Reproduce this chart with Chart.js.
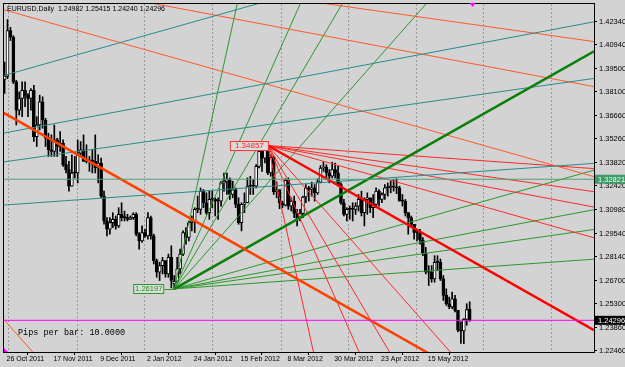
<!DOCTYPE html>
<html>
<head>
<meta charset="utf-8">
<title>EURUSD Daily</title>
<script src="https://cdn.jsdelivr.net/npm/chart.js@4.4.1/dist/chart.umd.min.js"></script>
<style>
  html, body { margin: 0; padding: 0; background: #d3d3d3; }
  canvas { display: block; }
</style>
</head>
<body>
<canvas id="chart" width="625" height="367"></canvas>
<script>
// EURUSD daily bars, bar 0 = 26 Oct 2011, last bar = 5 Jun 2012
const barOpen = [
  1.3885, 1.3905, 1.4180, 1.4140, 1.3870, 1.3700, 1.3770, 1.3820, 1.3790, 1.3770,
  1.3820, 1.3540, 1.3610, 1.3750, 1.3640, 1.3530, 1.3460, 1.3450, 1.3520, 1.3480,
  1.3500, 1.3370, 1.3340, 1.3240, 1.3320, 1.3320, 1.3440, 1.3460, 1.3390, 1.3400,
  1.3390, 1.3390, 1.3350, 1.3380, 1.3180, 1.3030, 1.2980, 1.3020, 1.3040, 1.3000,
  1.3070, 1.3050, 1.3050, 1.3040, 1.3050, 1.3070, 1.2950, 1.2910, 1.2960, 1.2940,
  1.3050, 1.2940, 1.2790, 1.2720, 1.2760, 1.2790, 1.2710, 1.2810, 1.2650, 1.2665,
  1.2740, 1.2830, 1.2960, 1.2930, 1.3020, 1.3030, 1.3100, 1.3100, 1.3210, 1.3140,
  1.3080, 1.3160, 1.3160, 1.3150, 1.3150, 1.3260, 1.3270, 1.3280, 1.3190, 1.3220,
  1.3130, 1.3020, 1.3130, 1.3140, 1.3240, 1.3240, 1.3240, 1.3360, 1.3450, 1.3410,
  1.3460, 1.3320, 1.3415, 1.3205, 1.3218, 1.3140, 1.3125, 1.3275, 1.3120, 1.3150,
  1.3075, 1.3045, 1.3075, 1.3175, 1.3230, 1.3220, 1.3230, 1.3200, 1.3265, 1.3350,
  1.3355, 1.3320, 1.3300, 1.3340, 1.3320, 1.3250, 1.3140, 1.3070, 1.3100, 1.3100,
  1.3100, 1.3120, 1.3160, 1.3080, 1.3160, 1.3170, 1.3110, 1.3130, 1.3210, 1.3160,
  1.3190, 1.3230, 1.3230, 1.3240, 1.3235, 1.3230, 1.3150, 1.3150, 1.3080, 1.3050,
  1.3010, 1.2960, 1.2960, 1.2915, 1.2835, 1.2720, 1.2720, 1.2680, 1.2780, 1.2780,
  1.2680, 1.2580, 1.2530, 1.2510, 1.2560, 1.2490, 1.2370, 1.2365, 1.2435, 1.24982
];
const barHigh = [
  1.3990, 1.4247, 1.4200, 1.4150, 1.3880, 1.3810, 1.3870, 1.3870, 1.3800, 1.3830,
  1.3850, 1.3660, 1.3790, 1.3780, 1.3650, 1.3560, 1.3550, 1.3610, 1.3530, 1.3570,
  1.3520, 1.3420, 1.3390, 1.3430, 1.3420, 1.3520, 1.3510, 1.3550, 1.3490, 1.3420,
  1.3460, 1.3550, 1.3430, 1.3410, 1.3210, 1.3050, 1.3050, 1.3080, 1.3060, 1.3110,
  1.3140, 1.3090, 1.3070, 1.3060, 1.3080, 1.3080, 1.2960, 1.3000, 1.2980, 1.3080,
  1.3060, 1.2950, 1.2800, 1.2780, 1.2810, 1.2790, 1.2830, 1.2880, 1.2700, 1.2810,
  1.2860, 1.2970, 1.2990, 1.3030, 1.3060, 1.3110, 1.3180, 1.3230, 1.3220, 1.3200,
  1.3210, 1.3210, 1.3170, 1.3170, 1.3270, 1.3320, 1.3320, 1.3290, 1.3270, 1.3230,
  1.3170, 1.3140, 1.3200, 1.3290, 1.3300, 1.3280, 1.3370, 1.3460, 1.3450, 1.3480,
  1.34857, 1.3430, 1.3420, 1.3265, 1.3220, 1.3150, 1.3285, 1.3290, 1.3170, 1.3180,
  1.3100, 1.3100, 1.3180, 1.3250, 1.3240, 1.3265, 1.3250, 1.3285, 1.3365, 1.3385,
  1.3370, 1.3340, 1.3385, 1.3380, 1.3360, 1.3260, 1.3160, 1.3110, 1.3120, 1.3140,
  1.3140, 1.3190, 1.3210, 1.3170, 1.3200, 1.3170, 1.3190, 1.3230, 1.3220, 1.3200,
  1.3250, 1.3260, 1.3270, 1.3280, 1.3285, 1.3240, 1.3190, 1.3160, 1.3080, 1.3060,
  1.3010, 1.2980, 1.2980, 1.2930, 1.2870, 1.2760, 1.2760, 1.2820, 1.2820, 1.2800,
  1.2700, 1.2620, 1.2570, 1.2600, 1.2580, 1.2490, 1.2420, 1.2440, 1.2530, 1.25415
];
const barLow = [
  1.3800, 1.3890, 1.4120, 1.3860, 1.3610, 1.3670, 1.3660, 1.3720, 1.3660, 1.3700,
  1.3510, 1.3480, 1.3580, 1.3590, 1.3480, 1.3420, 1.3420, 1.3420, 1.3420, 1.3450,
  1.3360, 1.3320, 1.3210, 1.3240, 1.3290, 1.3260, 1.3420, 1.3390, 1.3380, 1.3330,
  1.3320, 1.3320, 1.3260, 1.3170, 1.3010, 1.2940, 1.2950, 1.2990, 1.2980, 1.2990,
  1.3030, 1.3030, 1.3030, 1.3040, 1.3040, 1.2940, 1.2860, 1.2900, 1.2930, 1.2920,
  1.2920, 1.2770, 1.2690, 1.2670, 1.2710, 1.2690, 1.2690, 1.2625, 1.26197, 1.2660,
  1.2710, 1.2820, 1.2890, 1.2910, 1.2970, 1.2960, 1.3080, 1.3070, 1.3110, 1.3070,
  1.3040, 1.3110, 1.3060, 1.3040, 1.3120, 1.3210, 1.3190, 1.3160, 1.3170, 1.3110,
  1.3010, 1.2970, 1.3080, 1.3140, 1.3190, 1.3190, 1.3230, 1.3350, 1.3330, 1.3380,
  1.3310, 1.3300, 1.3190, 1.3170, 1.3104, 1.3110, 1.3120, 1.3100, 1.3090, 1.3050,
  1.3000, 1.3030, 1.3050, 1.3140, 1.3150, 1.3180, 1.3150, 1.3190, 1.3260, 1.3330,
  1.3290, 1.3260, 1.3290, 1.3290, 1.3240, 1.3130, 1.3060, 1.3030, 1.3040, 1.3030,
  1.3070, 1.3090, 1.3060, 1.3000, 1.3070, 1.3080, 1.3050, 1.3110, 1.3120, 1.3140,
  1.3160, 1.3180, 1.3200, 1.3210, 1.3195, 1.3150, 1.3120, 1.3060, 1.2950, 1.2990,
  1.2920, 1.2910, 1.2890, 1.2820, 1.2710, 1.2640, 1.2660, 1.2660, 1.2730, 1.2670,
  1.2550, 1.2520, 1.2500, 1.2500, 1.2480, 1.2360, 1.2290, 1.2288, 1.2400, 1.24240
];
const barClose = [
  1.3905, 1.4180, 1.4140, 1.3870, 1.3700, 1.3770, 1.3820, 1.3790, 1.3770, 1.3820,
  1.3540, 1.3610, 1.3750, 1.3640, 1.3530, 1.3460, 1.3450, 1.3520, 1.3480, 1.3500,
  1.3370, 1.3340, 1.3240, 1.3320, 1.3320, 1.3440, 1.3460, 1.3390, 1.3400, 1.3390,
  1.3390, 1.3350, 1.3380, 1.3180, 1.3030, 1.2980, 1.3020, 1.3040, 1.3000, 1.3070,
  1.3050, 1.3050, 1.3040, 1.3050, 1.3070, 1.2950, 1.2910, 1.2960, 1.2940, 1.3050,
  1.2940, 1.2790, 1.2720, 1.2760, 1.2790, 1.2710, 1.2810, 1.2670, 1.2665, 1.2740,
  1.2830, 1.2960, 1.2930, 1.3020, 1.3030, 1.3100, 1.3100, 1.3210, 1.3140, 1.3080,
  1.3160, 1.3160, 1.3150, 1.3150, 1.3260, 1.3270, 1.3280, 1.3190, 1.3220, 1.3130,
  1.3020, 1.3130, 1.3140, 1.3240, 1.3240, 1.3240, 1.3360, 1.3450, 1.3410, 1.3460,
  1.3320, 1.3415, 1.3205, 1.3218, 1.3140, 1.3125, 1.3275, 1.3120, 1.3150, 1.3075,
  1.3045, 1.3075, 1.3175, 1.3230, 1.3220, 1.3230, 1.3200, 1.3265, 1.3350, 1.3355,
  1.3320, 1.3300, 1.3340, 1.3320, 1.3250, 1.3140, 1.3070, 1.3100, 1.3100, 1.3100,
  1.3120, 1.3160, 1.3080, 1.3160, 1.3170, 1.3110, 1.3130, 1.3210, 1.3160, 1.3190,
  1.3230, 1.3230, 1.3240, 1.3235, 1.3230, 1.3150, 1.3150, 1.3080, 1.3050, 1.3010,
  1.2960, 1.2960, 1.2915, 1.2835, 1.2720, 1.2720, 1.2680, 1.2780, 1.2780, 1.2680,
  1.2580, 1.2530, 1.2510, 1.2560, 1.2490, 1.2370, 1.2365, 1.2435, 1.2495, 1.24296
];

const dateTickBars = [0, 16, 32, 48, 64, 80, 96, 112, 128, 144];
const dateTickLabels = ['26 Oct 2011', '17 Nov 2011', '9 Dec 2011', '2 Jan 2012', '24 Jan 2012',
  '15 Feb 2012', '8 Mar 2012', '30 Mar 2012', '23 Apr 2012', '15 May 2012'];
const gridBars = [1.5, 24.8, 48, 71.2, 94.6, 117.7, 140.7, 163.6, 186.8];
const priceTicks = [1.42340, 1.40940, 1.39500, 1.38100, 1.36660, 1.35260, 1.33820, 1.32420,
  1.30980, 1.29540, 1.28140, 1.26700, 1.25300, 1.23860, 1.22460];

// gann fans: teal (Jan 2011 low), orange (May 2011 high), red (Feb 2012 high), green (Jan 2012 low)
const fanRatios = [8, 4, 3, 2, 1, 1 / 2, 1 / 3, 1 / 4, 1 / 8];
const fanOriginBars = [-209, -125, 90, 58];
const fanOriginPrices = [1.2865, 1.4930, 1.34857, 1.26197];
const fanDirections = [1, -1, -1, 1];
const pipsPerBar = 10;
const levelPrice = 1.32821;

const symbolName = 'EURUSD,Daily';
const FONT = '"Liberation Sans", Arial, sans-serif';
const xMin = -0.2, xMax = 201.5;
const yMin = 1.22382, yMax = 1.43409;
const pip = 0.0001;
const last = barClose.length - 1;
const bidPrice = barClose[last];

const fanThin = ['#2a8c8c', '#ff5a2a', '#ff2a2a', '#2c982c'];
const fanMain = ['#1e8080', '#ff4000', '#ff0000', '#0b7f0b'];

const fanDatasets = [];
fanOriginBars.forEach((bar, f) => {
  fanRatios.forEach(r => {
    const endPrice = fanOriginPrices[f] + fanDirections[f] * r * pipsPerBar * pip * (xMax - bar);
    fanDatasets.push({
      type: 'line',
      data: [{ x: bar, y: fanOriginPrices[f] }, { x: xMax, y: endPrice }],
      borderColor: r === 1 ? fanMain[f] : fanThin[f],
      borderWidth: r === 1 ? 2.5 : 1,
      pointRadius: 0,
      order: r === 1 ? 4 : 5,
      xAxisID: 'x', yAxisID: 'y'
    });
  });
});

const hLine = (price, color, order) => ({
  type: 'line',
  data: [{ x: xMin, y: price }, { x: xMax, y: price }],
  borderColor: color, borderWidth: 1, pointRadius: 0, order,
  xAxisID: 'x', yAxisID: 'y'
});

const overlay = {
  id: 'overlay',
  beforeDraw(chart) {
    const { ctx, width, height } = chart;
    ctx.save();
    ctx.fillStyle = '#d3d3d3';
    ctx.fillRect(0, 0, width, height);
    ctx.restore();
  },
  afterDraw(chart) {
    const { ctx, chartArea: a, scales: { x, y } } = chart;
    ctx.save();
    ctx.strokeStyle = '#000';
    ctx.lineWidth = 1;
    ctx.strokeRect(a.left - 0.5, a.top - 0.5, a.right - a.left + 1, a.bottom - a.top + 1);

    ctx.textBaseline = 'middle';
    ctx.textAlign = 'left';
    ctx.fillStyle = '#000';
    ctx.font = '7px ' + FONT;
    ctx.fillText(symbolName + '  ' + [barOpen[last], barHigh[last], barLow[last], barClose[last]]
      .map(v => v.toFixed(5)).join(' '), 7, 9.5);

    ctx.font = '8.5px "Liberation Mono", monospace';
    ctx.fillText('Pips per bar: ' + pipsPerBar.toFixed(4), 18, 333);

    // fan origin labels
    let px = x.getPixelForValue(fanOriginBars[2]);
    let py = y.getPixelForValue(fanOriginPrices[2]);
    ctx.fillStyle = '#dcdcdc';
    ctx.fillRect(px - 38, py - 4.5, 39, 10);
    ctx.strokeStyle = '#ff3030';
    ctx.strokeRect(px - 37.5, py - 4, 38, 9);
    ctx.fillStyle = '#ff2020';
    ctx.font = '8px ' + FONT;
    ctx.textAlign = 'center';
    ctx.fillText(fanOriginPrices[2].toFixed(5), px - 18.5, py + 0.5);

    px = x.getPixelForValue(fanOriginBars[3]);
    py = y.getPixelForValue(fanOriginPrices[3]);
    ctx.strokeStyle = '#2a9a2a';
    ctx.beginPath();
    ctx.moveTo(px - 10, Math.round(py) + 0.5);
    ctx.lineTo(px, Math.round(py) + 0.5);
    ctx.stroke();
    ctx.fillStyle = '#dcdcdc';
    ctx.fillRect(px - 41, py - 5, 31, 10);
    ctx.strokeRect(px - 40.5, Math.round(py) - 4.5, 30, 9);
    ctx.fillStyle = '#1f8f1f';
    ctx.font = '7.5px ' + FONT;
    ctx.fillText(fanOriginPrices[3].toFixed(5), px - 25.5, py + 0.5);

    // price boxes on the right axis
    ctx.textAlign = 'left';
    py = y.getPixelForValue(levelPrice);
    ctx.fillStyle = '#3f9a68';
    ctx.fillRect(a.right + 1, py - 4.5, 30, 9);
    ctx.fillStyle = '#eaffea';
    ctx.fillText(levelPrice.toFixed(5), a.right + 4, py + 0.5);
    py = y.getPixelForValue(bidPrice);
    ctx.fillStyle = '#000';
    ctx.fillRect(a.right + 1, py - 4.5, 30, 9);
    ctx.fillStyle = '#fff';
    ctx.fillText(bidPrice.toFixed(5), a.right + 4, py + 0.5);

    // shift markers
    ctx.fillStyle = '#ff00ff';
    px = x.getPixelForValue(barClose.length);
    ctx.beginPath();
    ctx.moveTo(px - 3, a.top - 1);
    ctx.lineTo(px + 3, a.top - 1);
    ctx.lineTo(px, a.top + 3);
    ctx.fill();
    ctx.beginPath();
    ctx.moveTo(a.left, a.bottom);
    ctx.lineTo(a.left, a.bottom - 4);
    ctx.lineTo(a.left + 4, a.bottom);
    ctx.fill();
    ctx.restore();
  }
};

new Chart(document.getElementById('chart'), {
  type: 'line',
  data: {
    datasets: [
      hLine(bidPrice, '#ff00ff', 1),
      hLine(levelPrice, '#4f9f78', 2),
      ...fanDatasets,
      {
        type: 'bar',
        data: barOpen.map((o, i) => ({ x: i, y: [o, barClose[i]] })),
        backgroundColor: c => barClose[c.dataIndex] > barOpen[c.dataIndex] ? '#ffffff' : '#000000',
        borderColor: '#000',
        borderWidth: 1,
        borderSkipped: false,
        barThickness: 3,
        minBarLength: 1,
        grouped: false,
        order: 19,
        xAxisID: 'x', yAxisID: 'y'
      },
      {
        type: 'bar',
        data: barLow.map((l, i) => ({ x: i, y: [l, barHigh[i]] })),
        backgroundColor: '#000',
        borderWidth: 0,
        barThickness: 1,
        grouped: false,
        order: 20,
        xAxisID: 'x', yAxisID: 'y'
      }
    ]
  },
  options: {
    responsive: false,
    animation: false,
    devicePixelRatio: 1,
    events: [],
    layout: { padding: { left: 4, top: 4, right: 0, bottom: 0 } },
    plugins: { legend: { display: false }, tooltip: { enabled: false } },
    scales: {
      x: {
        type: 'linear', position: 'bottom', min: xMin, max: xMax, offset: false,
        afterBuildTicks: s => { s.ticks = dateTickBars.map(v => ({ value: v })); },
        afterFit: s => { s.height = 15; s.paddingLeft = 0; s.paddingRight = 0; },
        ticks: {
          callback: v => dateTickLabels[dateTickBars.indexOf(v)],
          color: '#000', font: { family: FONT, size: 7, lineHeight: 1 },
          align: 'start', labelOffset: 2, padding: 1, maxRotation: 0, autoSkip: false
        },
        grid: { drawOnChartArea: false, drawTicks: true, tickLength: 3, color: '#000' },
        border: { display: false }
      },
      xg: {
        type: 'linear', position: 'bottom', min: xMin, max: xMax, offset: false,
        afterBuildTicks: s => { s.ticks = gridBars.map(v => ({ value: v })); },
        afterFit: s => { s.height = 0; s.paddingLeft = 0; s.paddingRight = 0; },
        ticks: { display: false },
        grid: { drawTicks: false, color: '#9a9a9a', lineWidth: 1 },
        border: { display: false, dash: [2, 2] }
      },
      y: {
        type: 'linear', position: 'right', min: yMin, max: yMax,
        afterBuildTicks: s => { s.ticks = priceTicks.map(v => ({ value: v })); },
        afterFit: s => { s.width = 31; s.paddingTop = 0; s.paddingBottom = 0; },
        ticks: {
          callback: v => v.toFixed(5),
          color: '#000', font: { family: FONT, size: 7.5 }, padding: 2, autoSkip: false
        },
        grid: { drawOnChartArea: false, tickLength: 3, color: '#000' },
        border: { display: false }
      }
    }
  },
  plugins: [overlay]
});
</script>
</body>
</html>
